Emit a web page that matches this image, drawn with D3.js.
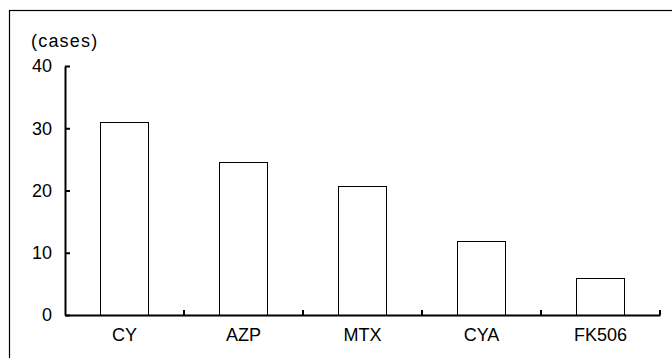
<!DOCTYPE html>
<html>
<head>
<meta charset="utf-8">
<script src="https://cdn.jsdelivr.net/npm/d3@7"></script>
<style>
  body { margin: 0; background: #fff; }
  svg { display: block; font-family: "Liberation Sans", Arial, sans-serif; }
</style>
</head>
<body>
<div id="chart"></div>
<script>
(function () {
    // data
    const drugs = ["CY", "AZP", "MTX", "CYA", "FK506"];
    const cases = [31, 24.6, 20.8, 11.9, 6];
    const yTicks = [0, 10, 20, 30, 40];

    const W = 672, H = 358;
    const margin = { top: 66, right: 12, bottom: 43, left: 65 };
    const width = W - margin.left - margin.right;
    const height = H - margin.top - margin.bottom;

    const svg = d3.select("#chart").append("svg")
        .attr("width", W)
        .attr("height", H);

    // outer frame
    svg.append("rect")
        .attr("x", 9.5).attr("y", 10.5)
        .attr("width", W).attr("height", H)
        .attr("fill", "none")
        .attr("stroke", "#000")
        .attr("stroke-width", 1.2);

    const g = svg.append("g")
        .attr("transform", `translate(${margin.left},${margin.top})`);

    const x = d3.scaleBand().domain(drugs).range([0, width]).padding(0);
    const y = d3.scaleLinear().domain([0, 40]).range([height, 0]);
    const barW = x.bandwidth() * 0.405;

    // bars
    g.selectAll(".bar")
        .data(drugs)
        .enter().append("rect")
        .attr("class", "bar")
        .attr("x", d => Math.round(x(d) + (x.bandwidth() - barW) / 2) + 0.5)
        .attr("y", (d, i) => Math.round(y(cases[i])) + 0.5)
        .attr("width", Math.round(barW))
        .attr("height", (d, i) => height - Math.round(y(cases[i])))
        .attr("fill", "#fff")
        .attr("stroke", "#000")
        .attr("stroke-width", 1);

    // y axis
    const yAxis = g.append("g")
        .call(d3.axisLeft(y).tickValues(yTicks).tickSize(-5).tickSizeOuter(0).tickPadding(13));
    yAxis.select(".domain").attr("stroke-width", 2);
    yAxis.selectAll(".tick line").attr("stroke-width", 2);
    yAxis.selectAll("text").attr("font-size", 18).attr("fill", "#000");

    // x axis
    const xAxis = g.append("g")
        .attr("transform", `translate(0,${height})`)
        .call(d3.axisBottom(x).tickSize(0).tickSizeOuter(0).tickPadding(13));
    xAxis.select(".domain").attr("stroke-width", 2);
    xAxis.selectAll("text").attr("font-size", 18).attr("fill", "#000");

    // category boundary ticks
    g.selectAll(".bound")
        .data(drugs)
        .enter().append("line")
        .attr("class", "bound")
        .attr("x1", d => x(d) + x.bandwidth())
        .attr("x2", d => x(d) + x.bandwidth())
        .attr("y1", height)
        .attr("y2", height - 5)
        .attr("stroke", "#000")
        .attr("stroke-width", 2);

    // unit label
    svg.append("text")
        .attr("x", 31)
        .attr("y", 47)
        .attr("font-size", 18)
        .attr("letter-spacing", 1.2)
        .text("(cases)");
})();
</script>
</body>
</html>
